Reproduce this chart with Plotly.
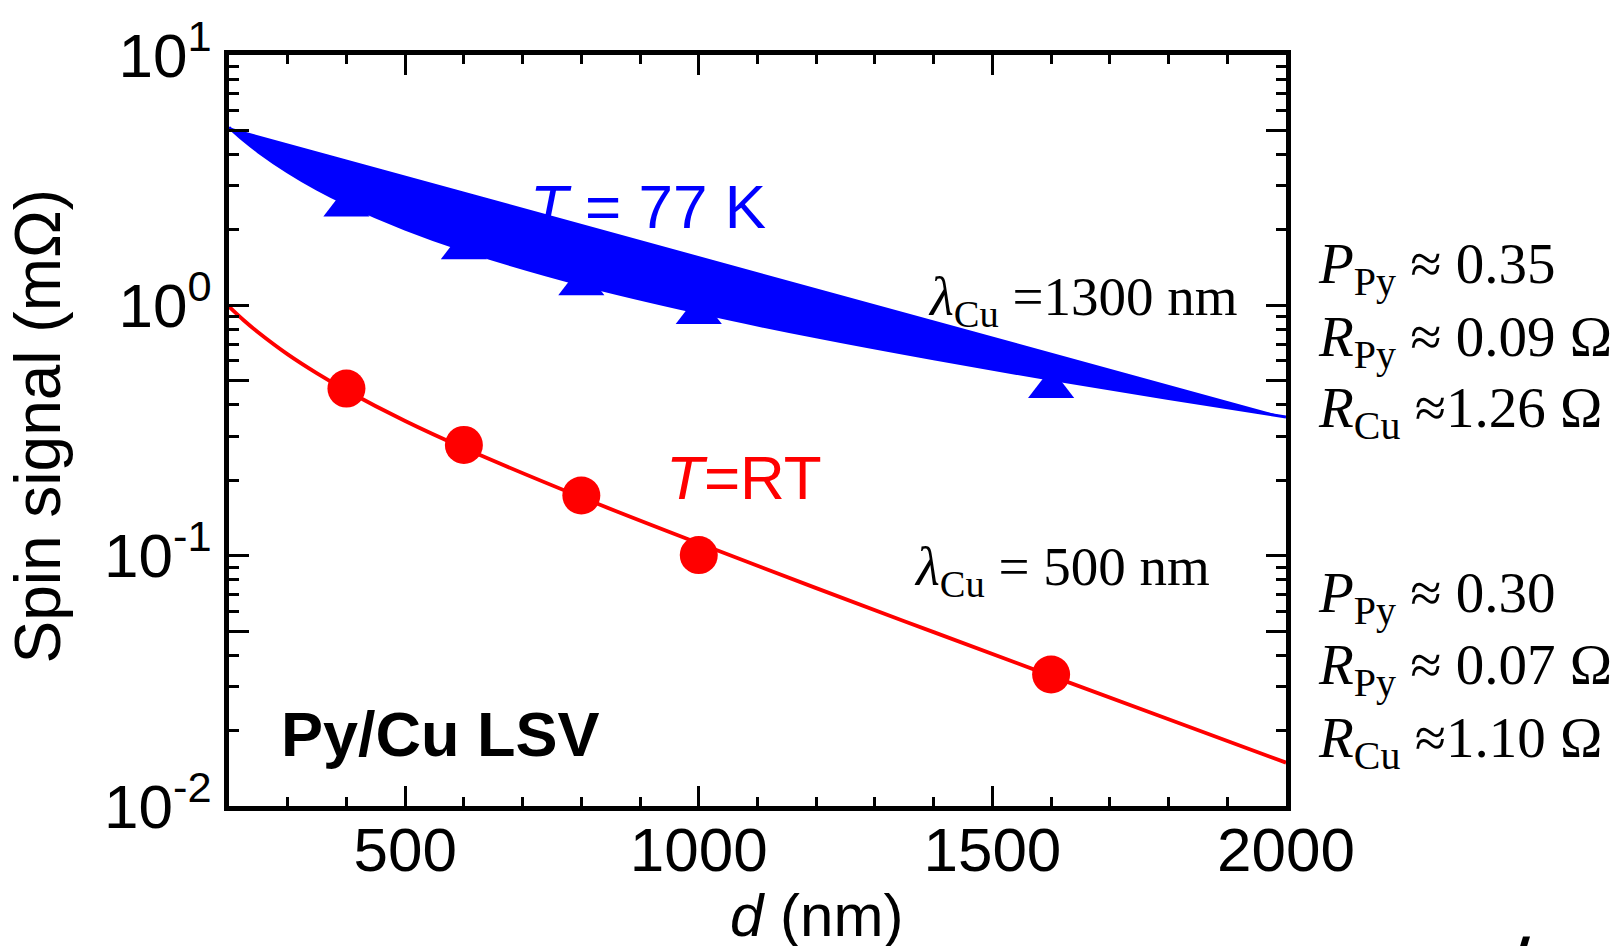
import plotly.graph_objects as go

# ---------------- data ----------------
d_curve = [200, 225, 250, 300, 350, 400, 500, 600, 800, 1000, 1200, 1400, 1600, 1800, 2000]
rt_curve = [0.988, 0.872, 0.779, 0.637, 0.535, 0.457, 0.345, 0.269, 0.171, 0.112, 0.0742, 0.0495, 0.0331, 0.0222, 0.0149]
k77_curve = [5.14, 4.56, 4.10, 3.41, 2.91, 2.54, 2.015, 1.661, 1.212, 0.937, 0.748, 0.611, 0.506, 0.424, 0.358]

d_data = [400, 600, 800, 1000, 1600]
rt_data = [0.465, 0.277, 0.174, 0.1005, 0.0335]
k77_data = [2.48, 1.675, 1.204, 0.923, 0.468]

x_major = [500, 1000, 1500, 2000]
x_minor = [300, 400, 600, 700, 800, 900, 1100, 1200, 1300, 1400, 1600, 1700, 1800, 1900]
y_decades = [0.01, 0.1, 1, 10]
y_decade_text = ["10<sup>-2</sup>", "10<sup>-1</sup>", "10<sup>0</sup>", "10<sup>1</sup>"]
y_fives = [0.05, 0.5, 5]
y_minor = [0.02, 0.03, 0.04, 0.06, 0.07, 0.08, 0.09,
           0.2, 0.3, 0.4, 0.6, 0.7, 0.8, 0.9,
           2, 3, 4, 6, 7, 8, 9]

params_77 = ["<i>P</i><sub>Py</sub> ≈ 0.35", "<i>R</i><sub>Py</sub> ≈ 0.09 Ω", "<i>R</i><sub>Cu</sub> ≈1.26 Ω"]
params_rt = ["<i>P</i><sub>Py</sub> ≈ 0.30", "<i>R</i><sub>Py</sub> ≈ 0.07 Ω", "<i>R</i><sub>Cu</sub> ≈1.10 Ω"]

BLUE = "#0000ff"
RED = "#ff0000"
SANS = "Liberation Sans, Arial, sans-serif"
SERIF = "Liberation Serif, Times New Roman, serif"

W, H = 1615, 946
L, R, T, B = 229, 1286, 52, 806


def px(x):
    return (x - L) / (R - L)


def py(y):
    return (B - y) / (B - T)


fig = go.Figure()

# 77 K fitted curve (filled to itself, as in the original)
fig.add_trace(go.Scatter(
    x=d_curve, y=k77_curve, mode="lines", line=dict(color=BLUE, width=3, shape="spline"),
    fill="toself", fillcolor=BLUE, showlegend=False, hoverinfo="skip"))
fig.add_trace(go.Scatter(
    x=d_data, y=k77_data, mode="markers",
    marker=dict(symbol="triangle-up", size=40, color=BLUE, line=dict(width=0)),
    showlegend=False))

# RT curve
fig.add_trace(go.Scatter(
    x=d_curve, y=rt_curve, mode="lines", line=dict(color=RED, width=3.8, shape="spline"),
    showlegend=False, hoverinfo="skip"))
fig.add_trace(go.Scatter(
    x=d_data, y=rt_data, mode="markers",
    marker=dict(symbol="circle", size=38, color=RED, line=dict(width=0)),
    showlegend=False))

# invisible trace that carries the secondary (5x) tick axis
fig.add_trace(go.Scatter(x=[200], y=[1], yaxis="y2", mode="markers",
                         marker=dict(opacity=0), showlegend=False, hoverinfo="skip"))

ann = []
ann.append(dict(text="<i>T</i> = 77 K", x=px(648), y=py(204), font=dict(family=SANS, size=62, color=BLUE)))
ann.append(dict(text="<i>T</i>=RT", x=px(744), y=py(476), font=dict(family=SANS, size=62, color=RED)))
ann.append(dict(text="<i>λ</i><sub>Cu</sub> =1300 nm", x=px(926), y=py(298), xanchor="left",
                font=dict(family=SERIF, size=55, color="black")))
ann.append(dict(text="<i>λ</i><sub>Cu</sub> = 500 nm", x=px(912), y=py(570), xanchor="left",
                font=dict(family=SERIF, size=55, color="black")))
for txt, yy in zip(params_77 + params_rt, [266, 339, 410, 596, 668, 742]):
    ann.append(dict(text=txt, x=px(1316), y=py(yy), xanchor="left",
                    font=dict(family=SERIF, size=57, color="black")))
ann.append(dict(text="<b>Py/Cu LSV</b>", x=px(440), y=py(734), font=dict(family=SANS, size=63, color="black")))
ann.append(dict(text="<i>d</i> (nm)", x=px(816), y=py(916), font=dict(family=SANS, size=60, color="black")))
ann.append(dict(text="Spin signal (mΩ)", x=px(38), y=py(425), textangle=-90,
                font=dict(family=SANS, size=64, color="black")))
for a in ann:
    a.setdefault("xanchor", "center")
    a.setdefault("yanchor", "middle")
    a.update(xref="paper", yref="paper", showarrow=False)

fig.update_layout(
    width=W, height=H,
    margin=dict(l=L, r=W - R, t=T, b=H - B),
    paper_bgcolor="white", plot_bgcolor="white",
    annotations=ann,
    shapes=[dict(type="path", xref="paper", yref="paper",
                 path="M %f,%f L %f,%f L %f,%f L %f,%f Z" % (px(1523), py(937), px(1530), py(937),
                                                          px(1527), py(947), px(1520), py(947)),
                 fillcolor="black", line=dict(width=0))],
    yaxis2=dict(type="log", range=[-2, 1], overlaying="y", anchor="x", side="left",
                showgrid=False, zeroline=False, showline=False, mirror="ticks",
                ticks="inside", ticklen=20, tickwidth=3, tickcolor="black",
                tickvals=y_fives, showticklabels=False),
)

fig.update_xaxes(
    range=[200, 2000], showgrid=False, zeroline=False,
    showline=True, linewidth=5, linecolor="black", mirror="ticks",
    ticks="inside", ticklen=20, tickwidth=3, tickcolor="black",
    tickvals=x_major, ticktext=[str(v) for v in x_major],
    tickfont=dict(family=SANS, size=62, color="black"),
    ticklabelstandoff=-14,
    minor=dict(tickvals=x_minor, ticks="inside", ticklen=9, tickwidth=3, tickcolor="black", showgrid=False),
)
fig.update_layout(yaxis=dict(
    type="log", range=[-2, 1], showgrid=False, zeroline=False,
    showline=True, linewidth=5, linecolor="black", mirror="ticks",
    ticks="inside", ticklen=20, tickwidth=3, tickcolor="black",
    tickvals=y_decades, ticktext=y_decade_text,
    tickfont=dict(family=SANS, size=62, color="black"),
    ticklabelstandoff=0,
    minor=dict(tickvals=y_minor, ticks="inside", ticklen=10, tickwidth=3, tickcolor="black", showgrid=False),
))

fig.write_html("out.html")
